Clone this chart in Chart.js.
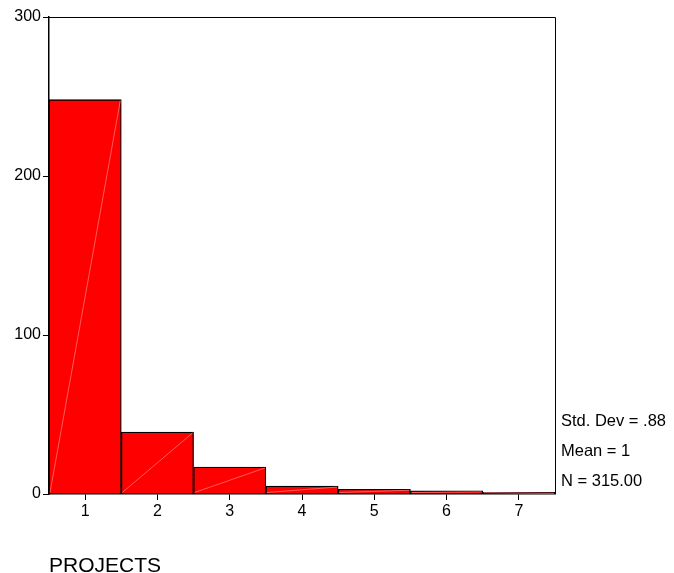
<!DOCTYPE html>
<html>
<head>
<meta charset="utf-8">
<script src="https://cdn.jsdelivr.net/npm/chart.js@4.4.0/dist/chart.umd.min.js"></script>
<style>
  html, body { margin: 0; padding: 0; background: #fff; }
</style>
</head>
<body>
<canvas id="histo" width="674" height="573"></canvas>
<script>
// 数据
const categories = ['1', '2', '3', '4', '5', '6', '7'];
const counts = [248, 39, 17, 5, 3, 2, 1];
const yTicks = [0, 100, 200, 300];
const xTitle = 'PROJECTS';
const statLines = ['Std. Dev = .88', 'Mean = 1', 'N = 315.00'];

const FONT = '"Liberation Sans", Arial, sans-serif';

// 画框 + 柱内斜线 + 文字
const decoPlugin = {
  id: 'deco',
  afterDatasetsDraw(chart) {
    const ctx = chart.ctx;
    const meta = chart.getDatasetMeta(0);
    ctx.save();
    ctx.strokeStyle = 'rgba(255,170,170,0.9)';
    ctx.lineWidth = 0.6;
    meta.data.forEach(bar => {
      const p = bar.getProps(['x', 'y', 'base', 'width'], true);
      ctx.beginPath();
      ctx.moveTo(p.x - p.width / 2 + 1, p.base - 1);
      ctx.lineTo(p.x + p.width / 2 - 1, p.y + 1);
      ctx.stroke();
    });
    ctx.restore();
  },
  afterDraw(chart) {
    const ctx = chart.ctx;
    const a = chart.chartArea;
    ctx.save();
    ctx.strokeStyle = '#000';
    ctx.lineWidth = 1;
    ctx.beginPath();
    ctx.moveTo(a.left, a.top + 0.5);
    ctx.lineTo(a.right + 0.5, a.top + 0.5);
    ctx.lineTo(a.right + 0.5, a.bottom);
    ctx.stroke();

    ctx.fillStyle = '#000';
    ctx.textBaseline = 'middle';
    ctx.textAlign = 'left';
    ctx.font = '16.5px ' + FONT;
    statLines.forEach((t, i) => ctx.fillText(t, a.right + 6, 421 + i * 30));
    ctx.font = '21px ' + FONT;
    ctx.fillText(xTitle, a.left, 566);
    ctx.restore();
  }
};

new Chart(document.getElementById('histo'), {
  type: 'bar',
  data: {
    labels: categories,
    datasets: [{
      data: counts,
      backgroundColor: '#ff0000',
      borderColor: '#000',
      borderWidth: 1.3,
      categoryPercentage: 1,
      barPercentage: 1
    }]
  },
  options: {
    responsive: false,
    animation: false,
    devicePixelRatio: 1,
    layout: { padding: { top: 17, right: 119, left: 0, bottom: 0 } },
    plugins: {
      legend: { display: false },
      tooltip: { enabled: false }
    },
    scales: {
      x: {
        offset: true,
        grid: { offset: false, drawOnChartArea: false, drawTicks: true, tickLength: 6, color: '#000' },
        border: { display: true, color: '#000', width: 1.5 },
        ticks: { color: '#000', padding: 2, font: { size: 16, family: FONT }, maxRotation: 0 },
        afterFit(s) { s.height = 79; }
      },
      y: {
        min: 0,
        max: 300,
        afterBuildTicks(s) { s.ticks = yTicks.map(v => ({ value: v })); },
        grid: { drawOnChartArea: false, drawTicks: true, tickLength: 6, color: '#000' },
        border: { display: true, color: '#000', width: 1.5 },
        ticks: { color: '#000', padding: 2, font: { size: 16, family: FONT } },
        afterFit(s) { s.width = 49; }
      }
    }
  },
  plugins: [decoPlugin]
});
</script>
</body>
</html>
